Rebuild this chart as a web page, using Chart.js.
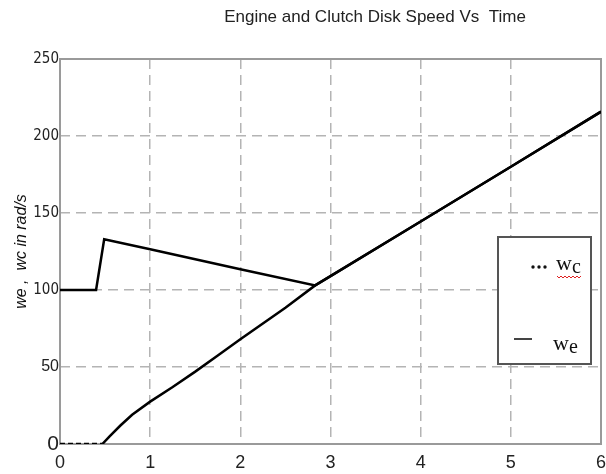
<!DOCTYPE html>
<html>
<head>
<meta charset="utf-8">
<script src="https://cdn.jsdelivr.net/npm/chart.js@4.4.1/dist/chart.umd.min.js"></script>
<style>
  html, body { margin: 0; padding: 0; background: #fff; }
  #wrap { width: 606px; height: 474px; }
</style>
</head>
<body>
<div id="wrap"><canvas id="c"></canvas></div>
<script>
// clutch disk speed (w_c) and engine speed (w_e), rad/s vs time s
const clutchT = [0, 0.47, 0.55, 0.67, 0.8, 1.0, 1.25, 1.5, 1.75, 2.0, 2.5, 2.83, 3, 4, 5, 6];
const clutchW = [0, 0, 5, 12, 19, 27.5, 37, 47, 57.5, 68, 88.5, 103, 109, 144.5, 180, 215.8];
const engineT = [0, 0.4, 0.49, 1.0, 2.0, 2.83, 3, 4, 5, 6];
const engineW = [100, 100, 133, 126.5, 113.5, 103, 109, 144.5, 180, 215.8];
const xTicks = [0, 1, 2, 3, 4, 5, 6];
const yTicks = [0, 50, 100, 150, 200, 250];

const title = "Engine and Clutch Disk Speed Vs  Time";
const yTitle = "we ,  wc in rad/s";

const pts = (xs, ys) => xs.map((x, i) => ({ x, y: ys[i] }));
const gridColor = "#b4b4b4";
const sans = '"Liberation Sans", Arial, sans-serif';
const serif = '"Liberation Serif", "Times New Roman", serif';

const framePlugin = {
  id: "frame",
  beforeDatasetsDraw(chart) {
    const { ctx, chartArea: a } = chart;
    ctx.save();
    ctx.strokeStyle = "#9a9a9a";
    ctx.lineWidth = 2;
    ctx.strokeRect(a.left, a.top, a.right - a.left, a.bottom - a.top);
    ctx.restore();
  },
  afterDraw(chart) {
    const ctx = chart.ctx;
    ctx.save();
    // title
    ctx.fillStyle = "#222";
    ctx.font = "17px " + sans;
    ctx.textAlign = "center";
    ctx.textBaseline = "middle";
    ctx.fillText(title, 375, 17);

    // legend box
    ctx.fillStyle = "#fff";
    ctx.fillRect(498, 237, 93, 127);
    ctx.strokeStyle = "#555";
    ctx.lineWidth = 2;
    ctx.strokeRect(498, 237, 93, 127);

    ctx.fillStyle = "#111";
    [533, 539, 545].forEach((x) => {
      ctx.beginPath();
      ctx.arc(x, 267, 1.7, 0, Math.PI * 2);
      ctx.fill();
    });
    ctx.strokeStyle = "#444";
    ctx.beginPath();
    ctx.moveTo(514, 339);
    ctx.lineTo(532, 339);
    ctx.stroke();

    ctx.fillStyle = "#111";
    ctx.textAlign = "left";
    ctx.textBaseline = "alphabetic";
    ctx.font = "22px " + serif;
    ctx.fillText("w", 556, 270);
    ctx.fillText("w", 553, 350);
    ctx.font = "20px " + serif;
    ctx.fillText("c", 572, 273);
    ctx.fillText("e", 569, 353);

    // spell-check squiggle under w_c
    ctx.strokeStyle = "#e02020";
    ctx.lineWidth = 1;
    ctx.beginPath();
    for (let x = 557; x <= 582; x += 2) {
      const y = 277 + ((x - 557) % 4 === 0 ? -1 : 1);
      x === 557 ? ctx.moveTo(x, y) : ctx.lineTo(x, y);
    }
    ctx.stroke();
    ctx.restore();
  },
};

new Chart(document.getElementById("c"), {
  type: "line",
  data: {
    datasets: [
      {
        label: "wc",
        data: pts(clutchT, clutchW),
        borderColor: "#000",
        borderWidth: 2.5,
        pointRadius: 0,
        tension: 0,
        segment: { borderDash: (ctx) => (ctx.p0DataIndex === 0 ? [5, 3] : undefined) },
      },
      {
        label: "we",
        data: pts(engineT, engineW),
        borderColor: "#000",
        borderWidth: 2.5,
        pointRadius: 0,
        tension: 0,
      },
    ],
  },
  options: {
    responsive: true,
    maintainAspectRatio: false,
    animation: false,
    layout: { padding: { top: 59, right: 0, left: 0, bottom: 0 } },
    plugins: { legend: { display: false }, tooltip: { enabled: false } },
    scales: {
      x: {
        type: "linear",
        min: 0,
        max: 6,
        afterBuildTicks: (s) => { s.ticks = xTicks.map((v) => ({ value: v })); },
        afterFit: (s) => { s.height = 30; s.paddingRight = 5; s.paddingLeft = 0; },
        grid: { color: gridColor, lineWidth: 1.5, drawTicks: false },
        border: { display: false, dash: [10, 6] },
        ticks: {
          color: "#222",
          padding: 8,
          font: { family: sans, size: 18 },
        },
      },
      y: {
        min: 0,
        max: 250,
        afterBuildTicks: (s) => { s.ticks = yTicks.map((v) => ({ value: v })); },
        afterFit: (s) => { s.width = 60; s.paddingTop = 0; },
        grid: { color: gridColor, lineWidth: 1.5, drawTicks: false },
        border: { display: false, dash: [10, 6] },
        title: {
          display: true,
          text: yTitle,
          color: "#111",
          padding: { top: 12, bottom: 0 },
          font: { family: sans, size: 16, style: "italic" },
        },
        ticks: {
          color: "#222",
          padding: 1,
          font: (c) => {
            const v = c.tick ? c.tick.value : 0;
            if (v === 0) return { family: sans, size: 21 };
            if (v === 50) return { family: sans, size: 16 };
            return { family: '"Liberation Sans Narrow", "DejaVu Sans Condensed", Arial, sans-serif', size: 15 };
          },
        },
      },
    },
  },
  plugins: [framePlugin],
});
</script>
</body>
</html>
